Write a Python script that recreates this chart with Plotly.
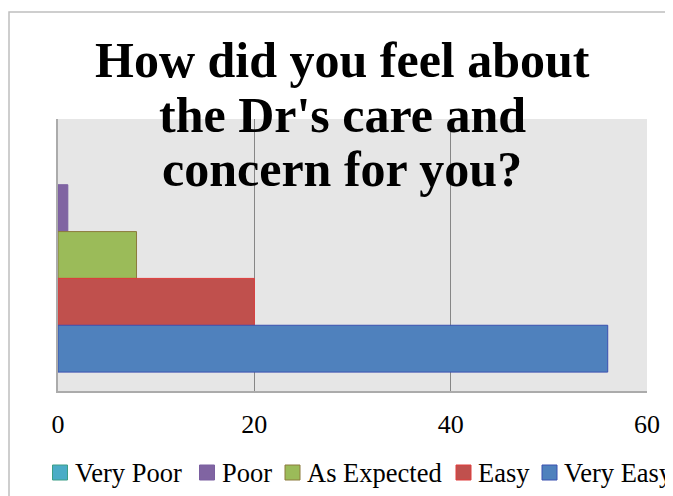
import plotly.graph_objects as go

# ---- data ----
categories = ["Q"]
series_names = ["Very Poor", "Poor", "As Expected", "Easy", "Very Easy"]
series_values = [0, 1, 8, 20, 56]
tick_values = [0, 20, 40, 60]
tick_labels = ["0", "20", "40", "60"]
title_lines = ["How did you feel about", "the Dr's care and", "concern for you?"]

# ---- styles ----
fill_colors = ["#4BACC6", "#8064A2", "#9BBB59", "#C0504D", "#4F81BD"]
edge_colors = ["#3C9E86", "#7A5FA0", "#8C7A3C", "#E03C3C", "#3A50B0"]

OFF = 8                       # page body margin of the browser
W, H = 673 - OFF, 496 - OFF
SL, SR, ST, SB = 58, 647, 119, 391   # plot-area box in screen pixels
PW, PH = SR - SL, SB - ST

def px(x):
    return (x - SL) / PW

def py(y):
    return (SB - y) / PH

fig = go.Figure()
for name, val, fc, ec in zip(series_names, series_values, fill_colors, edge_colors):
    fig.add_trace(go.Bar(
        y=categories, x=[val], name=name, orientation="h",
        marker=dict(color=fc, line=dict(color=ec, width=1 if val > 0 else 0)),
        showlegend=False,
    ))

serif = "Liberation Serif"

# title lines
title_y = [60, 115, 169]
annotations = []
for line, yc in zip(title_lines, title_y):
    annotations.append(dict(
        text=line, xref="paper", yref="paper", x=px(342), y=py(yc),
        xanchor="center", yanchor="middle", showarrow=False,
        font=dict(family=serif, size=50, color="black", weight="bold"),
    ))

# manual legend (plotly's legend would wrap; the reference is cut at the right edge)
legend_left = [52.5, 199.5, 285, 456, 542]
shapes = []
for name, fc, ec, lx in zip(series_names, fill_colors, edge_colors, legend_left):
    shapes.append(dict(type="rect", xref="paper", yref="paper",
                       x0=px(lx), x1=px(lx + 15), y0=py(480), y1=py(465),
                       fillcolor=fc, line=dict(color=ec, width=1)))
    annotations.append(dict(
        text=name, xref="paper", yref="paper", x=px(lx + 20), y=py(473),
        xanchor="left", yanchor="middle", showarrow=False,
        font=dict(family=serif, size=26.5, color="black"),
    ))

# outer chart border
shapes.append(dict(type="rect", xref="paper", yref="paper",
                   x0=px(OFF + 1), x1=px(720), y0=py(540), y1=py(12),
                   line=dict(color="#BFBFBF", width=1.5), fillcolor="rgba(0,0,0,0)",
                   layer="below"))

fig.update_layout(
    width=W, height=H,
    margin=dict(l=SL - OFF, r=W - (SR - OFF), t=ST - OFF, b=H - (SB - OFF), pad=0),
    paper_bgcolor="white", plot_bgcolor="#E6E6E6",
    barmode="group", bargap=0.139,
    annotations=annotations, shapes=shapes,
    showlegend=False,
    xaxis=dict(range=[0, 60], tickvals=tick_values, ticktext=tick_labels,
               showgrid=True, gridcolor="#868686", gridwidth=1,
               zeroline=False, showline=True, linecolor="#ABABAB", linewidth=2,
               ticks="", ticklabelstandoff=9,
               tickfont=dict(family=serif, size=26, color="black"),
               layer="below traces", fixedrange=True),
    yaxis=dict(autorange="reversed", showticklabels=False, showgrid=False,
               zeroline=False, showline=True, linecolor="#ABABAB", linewidth=2,
               ticks="", layer="below traces", fixedrange=True),
)

fig.write_html("out.html")
